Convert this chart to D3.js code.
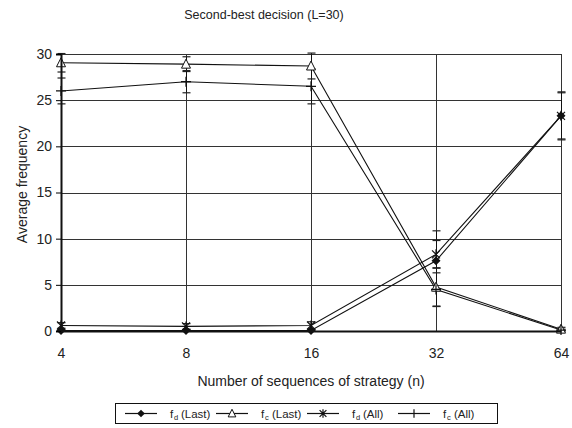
<!DOCTYPE html>
<html><head><meta charset="utf-8">
<script src="https://cdn.jsdelivr.net/npm/d3@7"></script>
<style>body{margin:0;background:#fff} text{font-family:"Liberation Sans",Arial,sans-serif;fill:#222}</style>
</head><body><svg id="c" width="572" height="428"></svg>
<script>
const categories = ["4","8","16","32","64"];
const yTicks = [0,5,10,15,20,25,30];
const fdLast = [0.05,0.05,0.05,7.6,23.3];
const fcLast = [29.05,28.9,28.7,4.75,0.2];
const fdAll  = [0.6,0.5,0.6,8.3,23.3];
const fcAll  = [26.0,27.0,26.5,4.5,0.1];
const fdLastErr = [0.1,0.1,0.1,3.25,2.5];
const fcLastErr = [1.0,0.8,1.4,2.1,0.2];
const fdAllErr  = [0.3,0.3,0.4,1.5,2.6];
const fcAllErr  = [1.4,1.2,1.9,1.8,0.1];
const seriesNames = ["Last","Last","All","All"];
const seriesSubs = ["d","c","d","c"];

const svg = d3.select("#c");
const W=572,H=428;
const m={l:61,r:11,t:54,b:97};
const x = d3.scalePoint().domain(categories).range([m.l, W-m.r]);
const y = d3.scaleLinear().domain([0,30]).range([H-m.b, m.t]);

// titles
svg.append("text").attr("x",264).attr("y",19).attr("text-anchor","middle").attr("font-size",12.5).text("Second-best decision (L=30)");
svg.append("text").attr("transform",`translate(27,${(m.t+H-m.b)/2-8}) rotate(-90)`).attr("text-anchor","middle").attr("font-size",14).text("Average frequency");
svg.append("text").attr("x",(m.l+W-m.r)/2).attr("y",386).attr("text-anchor","middle").attr("font-size",14).text("Number of sequences of strategy (n)");

// gridlines
const g = svg.append("g");
g.selectAll(".hg").data(yTicks.filter(v=>v>0)).enter().append("line")
 .attr("x1",m.l).attr("x2",W-m.r).attr("y1",d=>Math.round(y(d))+0.5).attr("y2",d=>Math.round(y(d))+0.5)
 .attr("stroke","#333").attr("stroke-width",1);
g.selectAll(".vg").data(categories.slice(1)).enter().append("line")
 .attr("x1",d=>Math.round(x(d))+0.5).attr("x2",d=>Math.round(x(d))+0.5).attr("y1",y(30)).attr("y2",y(0))
 .attr("stroke","#333").attr("stroke-width",1);

const series = [
 {v:fdLast,e:fdLastErr,mk:"diamond"},
 {v:fcLast,e:fcLastErr,mk:"triangle"},
 {v:fdAll,e:fdAllErr,mk:"asterisk"},
 {v:fcAll,e:fcAllErr,mk:"plus"}
];

// error bars
series.forEach(s=>{
  categories.forEach((c,i)=>{
    const cx=Math.round(x(c))+0.5;
    const hi=s.v[i]+s.e[i], lo=Math.max(0,s.v[i]-s.e[i]);
    g.append("line").attr("x1",cx).attr("x2",cx).attr("y1",y(hi)).attr("y2",y(lo)).attr("stroke","#111");
    [hi,lo].forEach(t=>g.append("line").attr("x1",cx-4).attr("x2",cx+4).attr("y1",y(t)).attr("y2",y(t)).attr("stroke","#222").attr("stroke-width",1.2));
  });
});

// lines
const line = d3.line().x((d,i)=>x(categories[i])).y(d=>y(d));
series.forEach(s=>{
  g.append("path").attr("d",line(s.v)).attr("fill","none").attr("stroke","#111").attr("stroke-width",1.1);
});

function marker(sel,type,cx,cy,k){
  k = k||1;
  if(type==="diamond"){
    sel.append("path").attr("d",`M${cx},${cy-4.5*k}L${cx+4.5*k},${cy}L${cx},${cy+4.5*k}L${cx-4.5*k},${cy}Z`).attr("fill","#111");
  } else if(type==="triangle"){
    sel.append("path").attr("d",`M${cx},${cy-5*k}L${cx+4.5*k},${cy+4*k}L${cx-4.5*k},${cy+4*k}Z`).attr("fill","#fff").attr("stroke","#111").attr("stroke-width",1);
  } else if(type==="asterisk"){
    sel.append("path").attr("d",`M${cx-4*k},${cy-4*k}L${cx+4*k},${cy+4*k}M${cx+4*k},${cy-4*k}L${cx-4*k},${cy+4*k}M${cx},${cy-5*k}L${cx},${cy+5*k}`).attr("stroke","#111").attr("stroke-width",1.2);
  } else {
    sel.append("path").attr("d",`M${cx-5*k},${cy}L${cx+5*k},${cy}M${cx},${cy-5*k}L${cx},${cy+5*k}`).attr("stroke","#111").attr("stroke-width",1.2);
  }
}
series.forEach(s=>{
  s.v.forEach((v,i)=>marker(g,s.mk,x(categories[i]),y(v)));
});

// axes
const ya = svg.append("g").attr("transform",`translate(${m.l},0)`)
 .call(d3.axisLeft(y).tickValues(yTicks).tickSize(5).tickPadding(4));
ya.select(".domain").attr("stroke","#111").attr("stroke-width",2);
ya.selectAll("text").attr("font-size",14).attr("font-family","Liberation Sans, Arial, sans-serif").attr("fill","#222");
const xa = svg.append("g").attr("transform",`translate(0,${y(0)})`)
 .call(d3.axisBottom(x).tickSize(0).tickPadding(17));
xa.select(".domain").attr("stroke","#111").attr("stroke-width",2);
xa.selectAll("text").attr("font-size",14).attr("font-family","Liberation Sans, Arial, sans-serif").attr("fill","#222");

// legend
const lg = svg.append("g");
lg.append("rect").attr("x",115.5).attr("y",403.5).attr("width",382).attr("height",20).attr("fill","#fff").attr("stroke","#111");
const lx = [125,216,307,398];
series.forEach((s,i)=>{
  const x0=lx[i], ly=413.5;
  lg.append("line").attr("x1",x0).attr("x2",x0+32).attr("y1",ly).attr("y2",ly).attr("stroke","#111").attr("stroke-width",1.2);
  marker(lg,s.mk,x0+16,ly,0.85);
  lg.append("text").attr("x",x0+45).attr("y",418).attr("font-size",11.5).text("f");
  lg.append("text").attr("x",x0+49).attr("y",420).attr("font-size",7.5).text(seriesSubs[i]);
  lg.append("text").attr("x",x0+56).attr("y",418).attr("font-size",11.5).text("(" + seriesNames[i] + ")");
});
</script></body></html>
